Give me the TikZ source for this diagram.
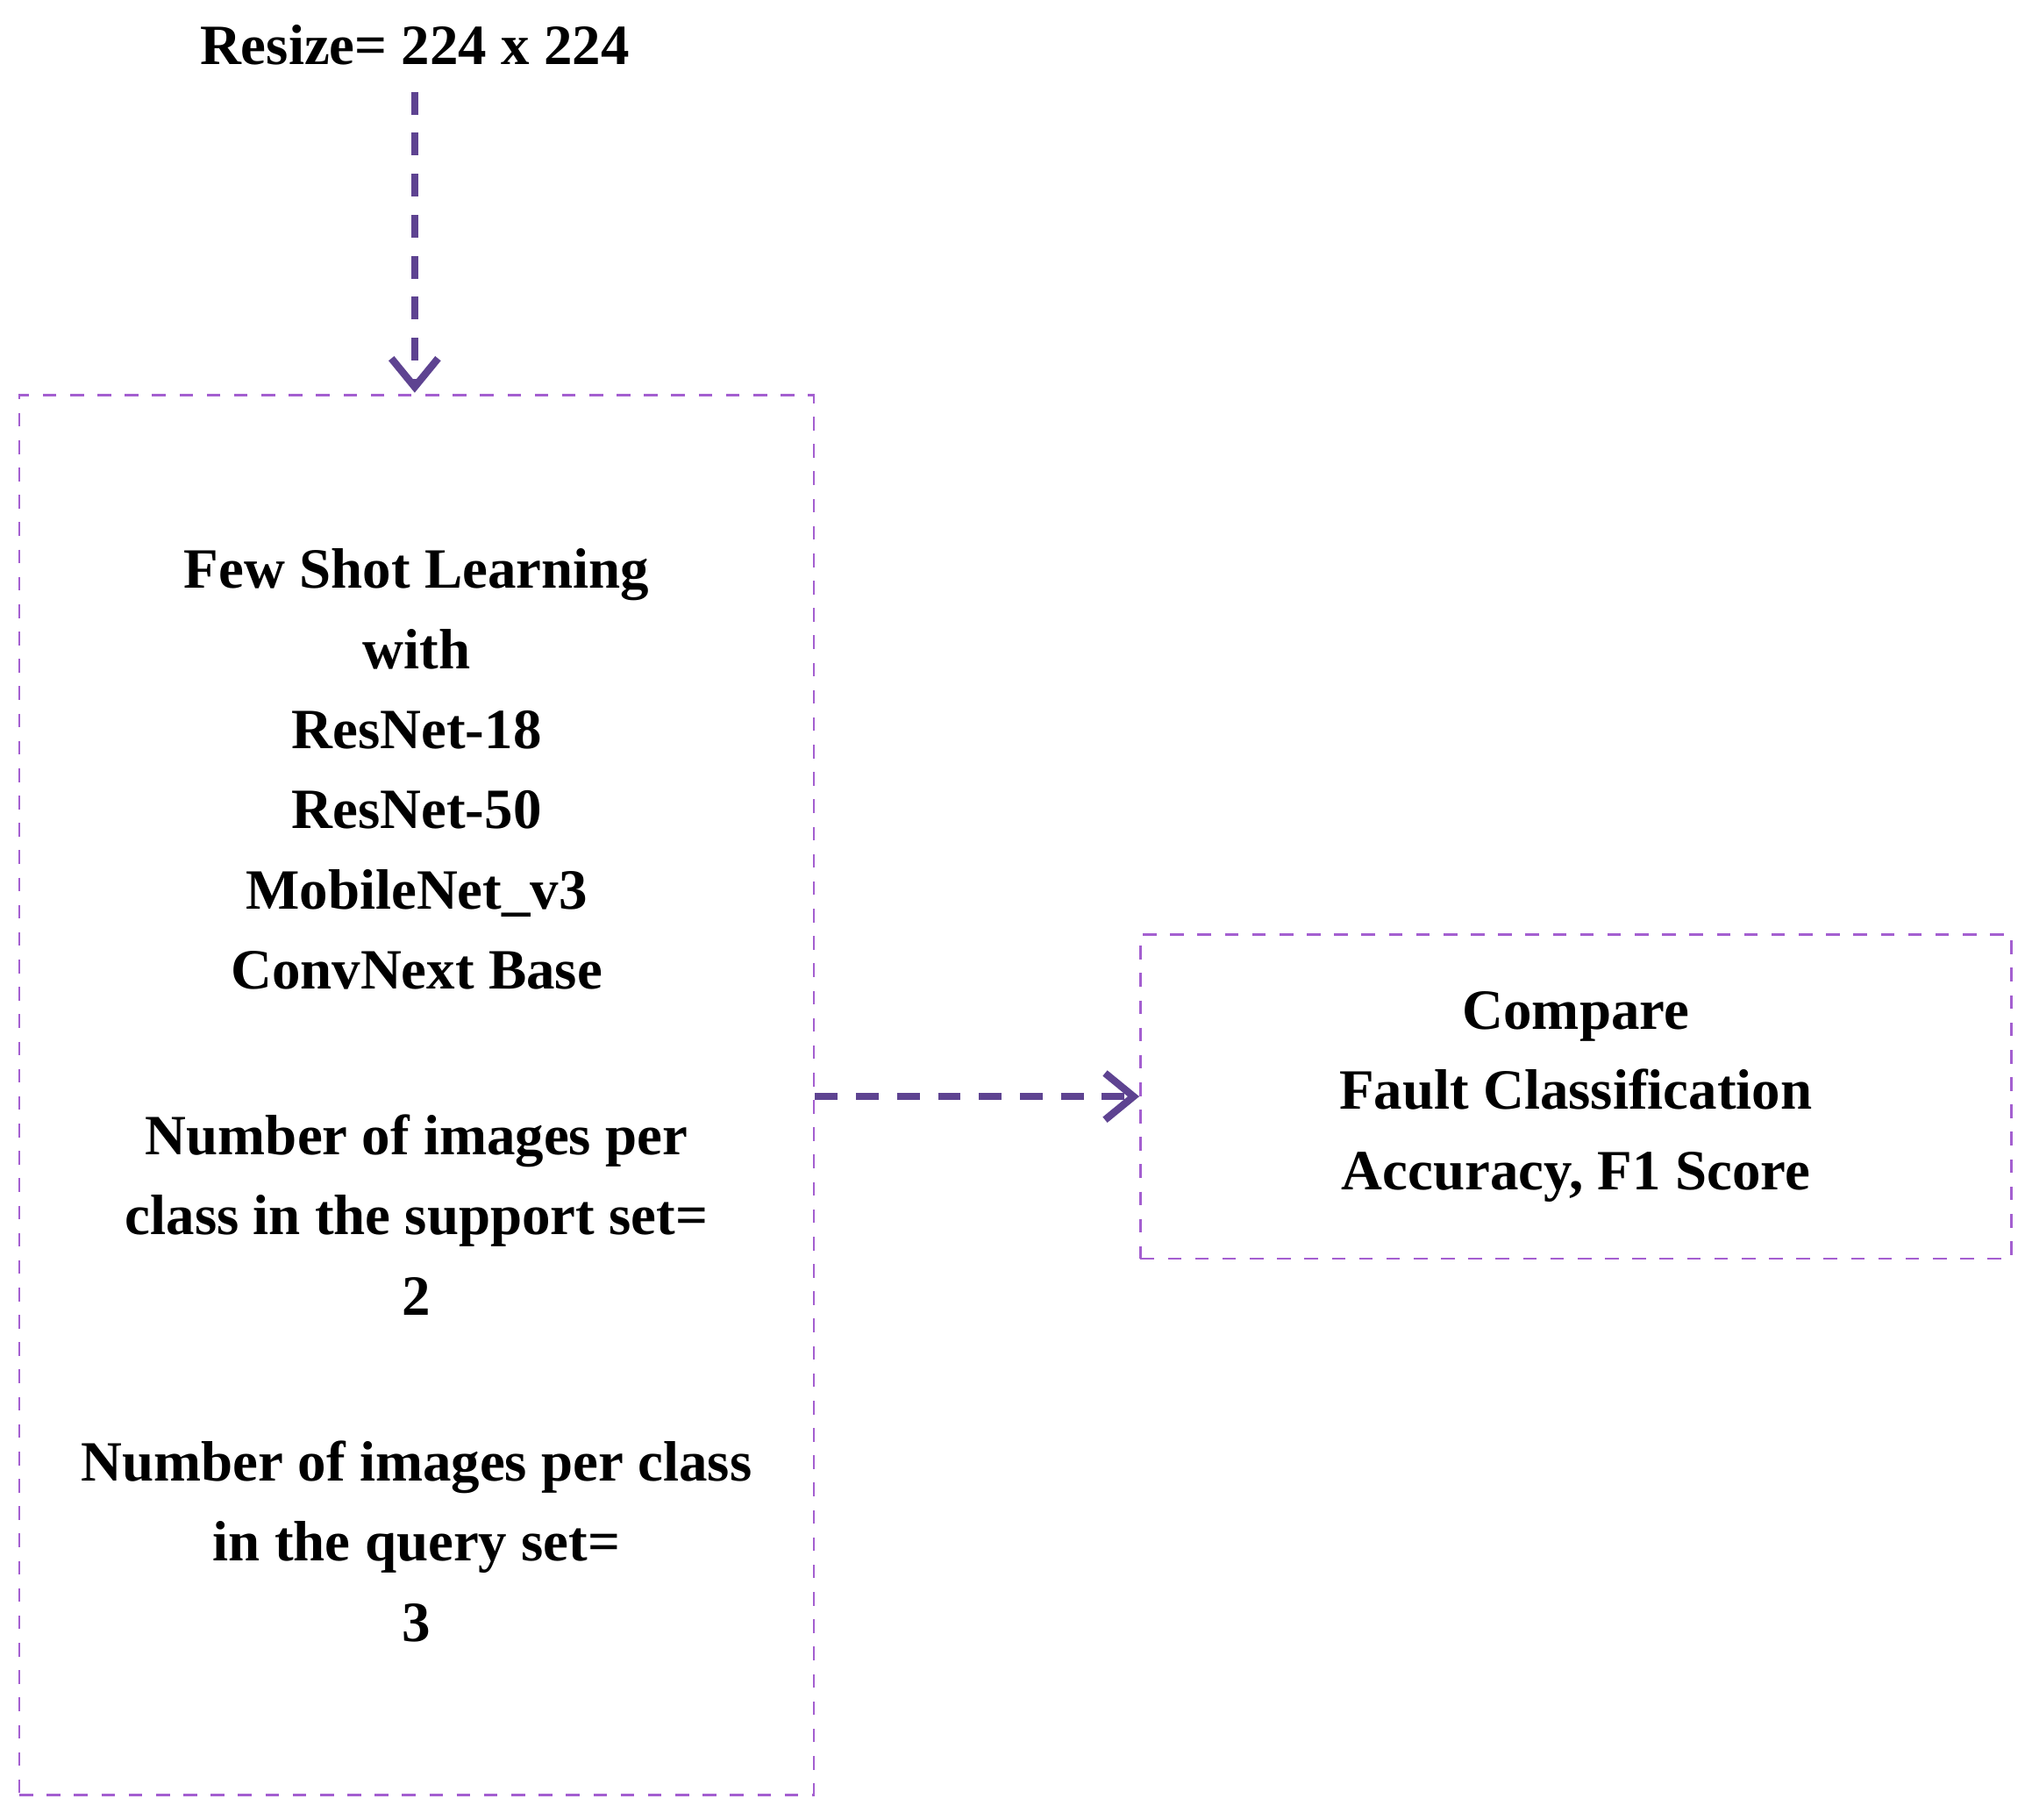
\documentclass[tikz,border=0pt]{standalone}
\usepackage{fontspec}
\setmainfont{Liberation Serif}
\usepackage{xcolor}
\usetikzlibrary{arrows.meta}
\definecolor{boxpurple}{HTML}{A45FD0}
\definecolor{arrowpurple}{HTML}{5E4391}

\tikzset{
  stage/.style={draw=boxpurple, dashed, line width=0.5pt, align=center,
    font=\fontsize{12.5}{17.6}\selectfont\bfseries, inner sep=0pt},
  flow/.style={draw=arrowpurple, line width=1.6pt, dash pattern=on 5pt off 4pt,
    -{Straight Barb[length=2.2mm,width=3.6mm]}}
}

\begin{document}
\begin{tikzpicture}[y=-1cm]
  \useasboundingbox (0, 0) rectangle (15.68, 14.04);

  \node[font=\fontsize{12.5}{17.6}\selectfont\bfseries] (resize) at (3.2, 0.35) {Resize= 224 x 224};

  \node[stage, minimum width=6.13cm, minimum height=10.8cm] (fsl) at (3.215, 8.45)
    {Few Shot Learning\\ with\\ ResNet-18\\ ResNet-50\\ MobileNet\_v3\\ ConvNext Base\\[0.66cm]
     Number of images per\\ class in the support set=\\ 2\\[0.66cm]
     Number of images per class\\ in the query set=\\ 3};

  \node[stage, minimum width=6.72cm, minimum height=2.5cm] (cmp) at (12.16, 8.46)
    {Compare\\ Fault Classification\\ Accuracy, F1 Score};

  \coordinate (top) at (3.2, 3.03);
  \draw[flow] (resize.south) ++(0, 0.08) -- (top);
  \draw[flow] (fsl.east |- cmp.west) -- (cmp.west);
\end{tikzpicture}
\end{document}
